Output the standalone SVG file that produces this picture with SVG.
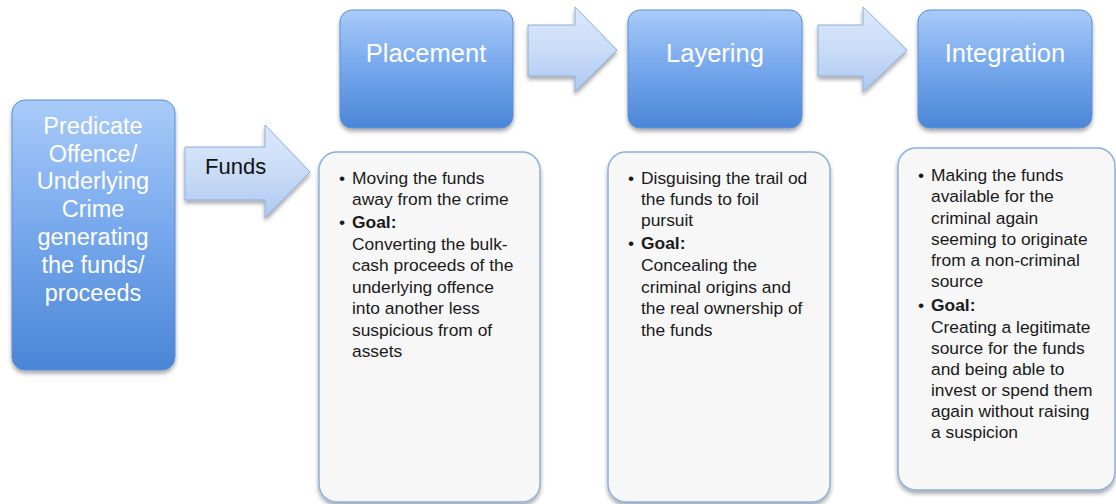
<svg xmlns="http://www.w3.org/2000/svg" width="1116" height="504" viewBox="0 0 1116 504">
<defs>
<linearGradient id="gBlue" x1="0" y1="0" x2="0" y2="1">
<stop offset="0" stop-color="#a9cbf8"/>
<stop offset="0.45" stop-color="#7aaaee"/>
<stop offset="1" stop-color="#4a86d6"/>
</linearGradient>
<linearGradient id="gArrow" x1="0" y1="0" x2="0" y2="1">
<stop offset="0" stop-color="#dde9fb"/>
<stop offset="0.5" stop-color="#c9dcf7"/>
<stop offset="1" stop-color="#adc8f0"/>
</linearGradient>
<filter id="sh" x="-10%" y="-10%" width="130%" height="130%">
<feGaussianBlur in="SourceAlpha" stdDeviation="2"/>
<feOffset dx="0" dy="3" result="b"/>
<feComponentTransfer><feFuncA type="linear" slope="0.35"/></feComponentTransfer>
<feMerge><feMergeNode/><feMergeNode in="SourceGraphic"/></feMerge>
</filter>
</defs>
<style>
.blue{fill:url(#gBlue);stroke:#5a8fd6;stroke-width:1;filter:url(#sh)}
.arr{fill:url(#gArrow);stroke:#8eaedc;stroke-width:1;filter:url(#sh)}
.card{fill:#f7f7f7;stroke:#8db0dc;stroke-width:1.5;filter:url(#sh)}
.ttl{font-family:"Liberation Sans",Arial,sans-serif;font-size:25.5px;fill:#ffffff;text-anchor:middle}
.pred{font-family:"Liberation Sans",Arial,sans-serif;font-size:23.5px;fill:#ffffff;text-anchor:middle}
.body{font-family:"Liberation Sans",Arial,sans-serif;font-size:17.4px;fill:#1a1a1a}
.lbl{font-family:"Liberation Sans",Arial,sans-serif;font-size:22px;fill:#111111}
.b{font-weight:bold}
</style>
<rect width="1116" height="504" fill="#ffffff"/>

<g id="connectors">
<path class="arr" d="M185,147 H265 V125 L310,172 L265,218 V200 H185 Z"/>
<text class="lbl" x="205" y="174">Funds</text>
<path class="arr" d="M528,25 H575 V7 L617,50 L575,92 V76 H528 Z"/>
<path class="arr" d="M818,25 H863 V7 L907,50 L863,92 V76 H818 Z"/>
</g>

<g id="predicate">
<rect class="blue" x="12" y="100" width="163" height="270" rx="13"/>
<text class="pred" x="93" y="134">Predicate</text>
<text class="pred" x="93" y="162">Offence/</text>
<text class="pred" x="93" y="189">Underlying</text>
<text class="pred" x="93" y="217">Crime</text>
<text class="pred" x="93" y="245">generating</text>
<text class="pred" x="93" y="273">the funds/</text>
<text class="pred" x="93" y="301">proceeds</text>
</g>

<g id="placement">
<rect class="blue" x="340" y="10" width="173" height="118" rx="12"/>
<text class="ttl" x="426" y="62">Placement</text>
</g>

<g id="layering">
<rect class="blue" x="628" y="10" width="174" height="118" rx="12"/>
<text class="ttl" x="715" y="62">Layering</text>
</g>

<g id="integration">
<rect class="blue" x="918" y="10" width="174" height="118" rx="12"/>
<text class="ttl" x="1005" y="62">Integration</text>
</g>

<g id="placement-details">
<rect class="card" x="319" y="152" width="221" height="350" rx="18"/>
<g class="body">
<text x="339" y="184">•</text>
<text x="352" y="184">Moving the funds</text>
<text x="352" y="205">away from the crime</text>
<text x="339" y="228">•</text>
<text x="352" y="228" class="b">Goal:</text>
<text x="352" y="250">Converting the bulk-</text>
<text x="352" y="271">cash proceeds of the</text>
<text x="352" y="293">underlying offence</text>
<text x="352" y="314">into another less</text>
<text x="352" y="336">suspicious from of</text>
<text x="352" y="357">assets</text>
</g>
</g>

<g id="layering-details">
<rect class="card" x="608" y="152" width="222" height="350" rx="18"/>
<g class="body">
<text x="628" y="184">•</text>
<text x="641" y="184">Disguising the trail od</text>
<text x="641" y="205">the funds to foil</text>
<text x="641" y="226">pursuit</text>
<text x="628" y="249">•</text>
<text x="641" y="249" class="b">Goal:</text>
<text x="641" y="271">Concealing the</text>
<text x="641" y="293">criminal origins and</text>
<text x="641" y="314">the real ownership of</text>
<text x="641" y="336">the funds</text>
</g>
</g>

<g id="integration-details">
<rect class="card" x="898" y="148" width="217" height="342" rx="18"/>
<g class="body">
<text x="918" y="181">•</text>
<text x="931" y="181">Making the funds</text>
<text x="931" y="202">available for the</text>
<text x="931" y="224">criminal again</text>
<text x="931" y="245">seeming to originate</text>
<text x="931" y="266">from a non-criminal</text>
<text x="931" y="287">source</text>
<text x="918" y="311">•</text>
<text x="931" y="311" class="b">Goal:</text>
<text x="931" y="333">Creating a legitimate</text>
<text x="931" y="354">source for the funds</text>
<text x="931" y="375">and being able to</text>
<text x="931" y="396">invest or spend them</text>
<text x="931" y="417">again without raising</text>
<text x="931" y="438">a suspicion</text>
</g>
</g>
</svg>
